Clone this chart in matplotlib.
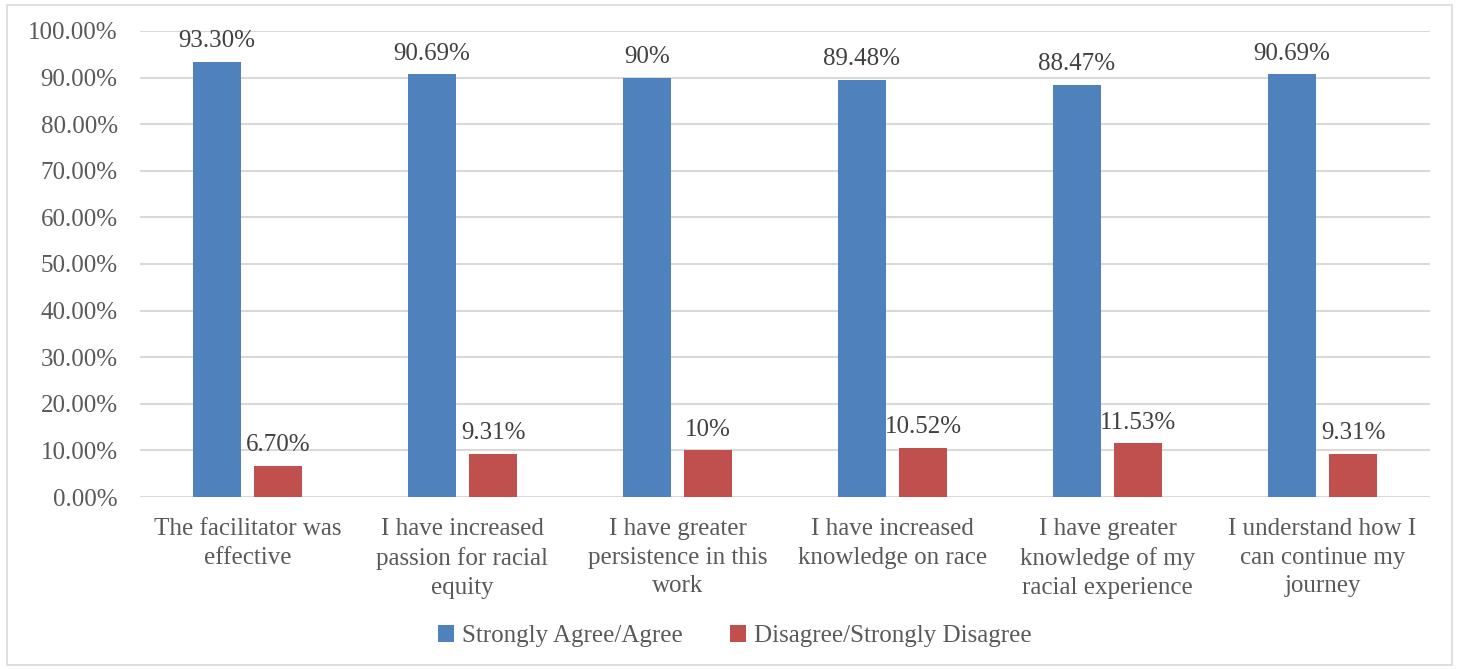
import numpy as np
import matplotlib.pyplot as plt
from matplotlib.patches import Rectangle

plt.rcParams['font.family'] = ['Liberation Serif', 'DejaVu Serif']

categories = [
    "The facilitator was\neffective",
    "I have increased\npassion for racial\nequity",
    "I have greater\npersistence in this\nwork",
    "I have increased\nknowledge on race",
    "I have greater\nknowledge of my\nracial experience",
    "I understand how I\ncan continue my\njourney",
]
agree = [93.30, 90.69, 90.0, 89.48, 88.47, 90.69]
disagree = [6.70, 9.31, 10.0, 10.52, 11.53, 9.31]
series_names = ["Strongly Agree/Agree", "Disagree/Strongly Disagree"]
yticks = [0, 10, 20, 30, 40, 50, 60, 70, 80, 90, 100]

blue = "#4F81BD"
red = "#C0504D"
grid_c = "#D9D9D9"
text_c = "#595959"


def pct(v):
    return f"{v:.0f}%" if float(v).is_integer() else f"{v:.2f}%"


fig = plt.figure(figsize=(14.61, 6.69), dpi=100)
ax = fig.add_axes([0.0958, 0.2571, 0.883, 0.6966])

x = np.arange(len(categories))
w = 0.223
off = 0.142
b1 = ax.bar(x - off, agree, w, color=blue, label=series_names[0], zorder=3)
b2 = ax.bar(x + off, disagree, w, color=red, label=series_names[1], zorder=3)

for bars, vals in ((b1, agree), (b2, disagree)):
    for r, v in zip(bars, vals):
        ax.annotate(pct(v), (r.get_x() + r.get_width() / 2, v),
                    xytext=(0, 7), textcoords="offset points",
                    ha="center", va="bottom", fontsize=18, color="#404040")

ax.set_xlim(-0.5, len(categories) - 0.5)
ax.set_ylim(0, 100)
ax.set_yticks(yticks)
ax.set_yticklabels([f"{t:.2f}%" for t in yticks])
ax.set_xticks(x)
ax.set_xticklabels(categories, linespacing=1.4)
ax.tick_params(axis="both", length=0, labelsize=18, colors=text_c)
ax.tick_params(axis="y", pad=16)
ax.tick_params(axis="x", pad=15)
ax.yaxis.grid(True, color=grid_c, linewidth=1.5, zorder=0)
for s in ax.spines.values():
    s.set_visible(False)

ax.legend(loc="center", bbox_to_anchor=(0.503, 0.049), bbox_transform=fig.transFigure,
          ncol=2, frameon=False, fontsize=18, handlelength=0.65, handleheight=0.65,
          handletextpad=0.3, columnspacing=1.9, labelcolor=text_c)

fig.patches.append(Rectangle((0.005, 0.006), 0.989, 0.986, transform=fig.transFigure,
                             fill=False, edgecolor=grid_c, linewidth=1.2))

fig.savefig("out.png", dpi=100)
